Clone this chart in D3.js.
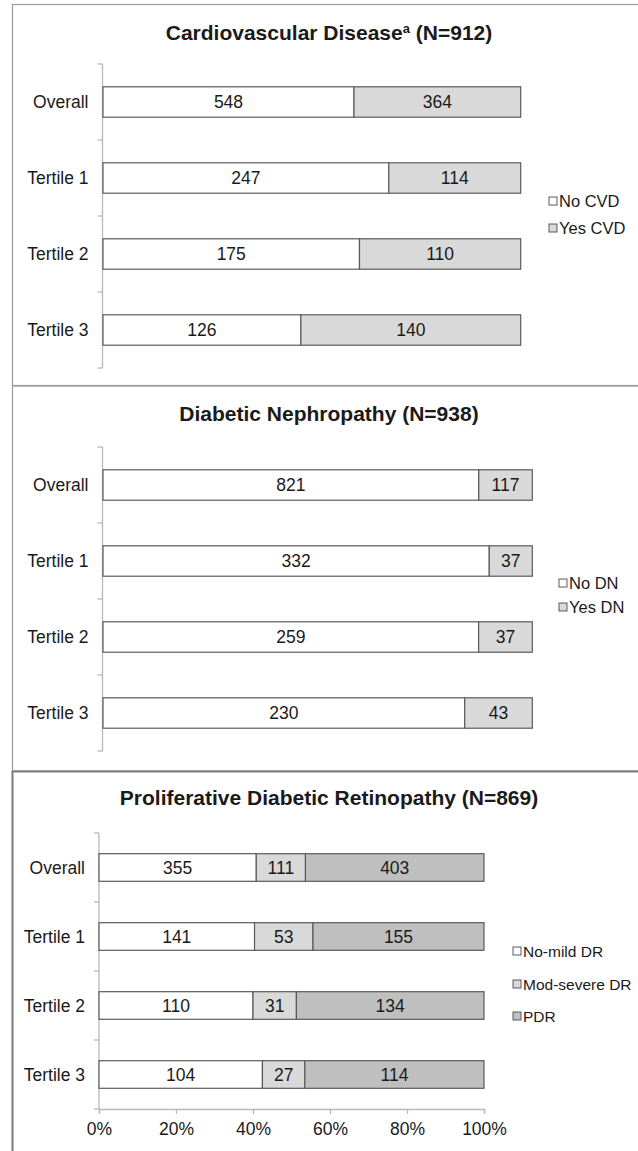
<!DOCTYPE html>
<html>
<head>
<meta charset="utf-8">
<script src="https://cdn.jsdelivr.net/npm/d3@7"></script>
<style>
  html, body { margin: 0; padding: 0; background: #fff; }
  svg { display: block; }
  text { font-family: "Liberation Sans", Arial, sans-serif; fill: #1a1a1a; }
</style>
</head>
<body>
<svg id="chart" width="638" height="1151"></svg>
<script>
// ---------- data ----------
const categories = ["Overall", "Tertile 1", "Tertile 2", "Tertile 3"];

const cvdSeries = ["No CVD", "Yes CVD"];
const cvdNo  = [548, 247, 175, 126];
const cvdYes = [364, 114, 110, 140];

const dnSeries = ["No DN", "Yes DN"];
const dnNo  = [821, 332, 259, 230];
const dnYes = [117, 37, 37, 43];

const drSeries = ["No-mild DR", "Mod-severe DR", "PDR"];
const drNoMild    = [355, 141, 110, 104];
const drModSevere = [111, 53, 31, 27];
const drPDR       = [403, 155, 134, 114];

const xTickValues = [0, 0.2, 0.4, 0.6, 0.8, 1];

const titles = [
  {main: "Cardiovascular Disease", sup: "a", tail: " (N=912)"},
  {main: "Diabetic Nephropathy (N=938)", sup: "", tail: ""},
  {main: "Proliferative Diabetic Retinopathy (N=869)", sup: "", tail: ""}
];

// ---------- styles ----------
const fills2 = ["#ffffff", "#d9d9d9"];
const fills3 = ["#ffffff", "#d9d9d9", "#bfbfbf"];
const barStroke = "#5a5a5a";
const axisColor = "#b8b8b8";

const svg = d3.select("#chart");
svg.append("rect").attr("width", 638).attr("height", 1151).attr("fill", "#fff");

// ---------- panel layouts ----------
const panels = [
  {
    top: 4.5, bottom: 385.5, titleY: 40, title: titles[0],
    series: cvdSeries, values: [cvdNo, cvdYes], fills: fills2,
    x0: 103, x1: 520.7, y0: 64, y1: 368, axisX: 102.5,
    legendX: 553, legendY: [201, 228], legendFont: 16.5, showX: false
  },
  {
    top: 386, bottom: 771, titleY: 421, title: titles[1],
    series: dnSeries, values: [dnNo, dnYes], fills: fills2,
    x0: 103, x1: 532.3, y0: 447, y1: 751, axisX: 102.5,
    legendX: 563, legendY: [583, 607], legendFont: 16.5, showX: false
  },
  {
    top: 771.5, bottom: 1160, titleY: 805, title: titles[2],
    series: drSeries, values: [drNoMild, drModSevere, drPDR], fills: fills3,
    x0: 99, x1: 484, y0: 833, y1: 1109, axisX: 99,
    legendX: 517, legendY: [951, 984, 1016], legendFont: 15.5, showX: true
  }
];

panels.forEach((p, pi) => {
  const g = svg.append("g");

  // panel frame
  g.append("rect")
    .attr("x", 12.5).attr("y", p.top)
    .attr("width", 700).attr("height", p.bottom - p.top)
    .attr("fill", "none")
    .attr("stroke", pi === 2 ? "#7a7a7a" : "#9a9a9a")
    .attr("stroke-width", pi === 2 ? 2 : 1.2);

  // title
  const t = g.append("text")
    .attr("x", 329).attr("y", p.titleY)
    .attr("text-anchor", "middle")
    .style("font-size", "21px").style("font-weight", "bold");
  t.append("tspan").text(p.title.main);
  if (p.title.sup) {
    t.append("tspan").text(p.title.sup)
      .attr("dy", -7).style("font-size", "13px");
    t.append("tspan").text(p.title.tail).attr("dy", 7);
  }

  // scales
  const y = d3.scaleBand().domain(categories)
    .range([p.y0, p.y1]).paddingInner(0.6).paddingOuter(0.3);
  const x = d3.scaleLinear().domain([0, 1]).range([p.x0, p.x1]);

  // stack as proportions
  const rows = categories.map((c, i) => {
    const o = {cat: c};
    const tot = d3.sum(p.values, v => v[i]);
    p.series.forEach((s, k) => { o[s] = p.values[k][i] / tot; o["n_" + s] = p.values[k][i]; });
    return o;
  });
  const stacked = d3.stack().keys(p.series)(rows);

  // y axis line + ticks at band boundaries
  g.append("line")
    .attr("x1", p.axisX).attr("x2", p.axisX)
    .attr("y1", p.y0).attr("y2", p.y1)
    .attr("stroke", axisColor).attr("stroke-width", 1.3);
  const bounds = d3.range(categories.length + 1).map(i => p.y0 + i * y.step());
  g.selectAll(".ytick").data(bounds).join("line")
    .attr("x1", p.axisX - 5).attr("x2", p.axisX)
    .attr("y1", d => d).attr("y2", d => d)
    .attr("stroke", axisColor).attr("stroke-width", 1.3);

  // category labels
  g.selectAll(".cat").data(categories).join("text")
    .attr("x", p.axisX - 14)
    .attr("y", d => y(d) + y.bandwidth() / 2)
    .attr("dy", "0.35em")
    .attr("text-anchor", "end")
    .style("font-size", "17.5px")
    .text(d => d);

  // bars
  stacked.forEach((layer, k) => {
    const lg = g.append("g");
    lg.selectAll("rect").data(layer).join("rect")
      .attr("x", d => x(d[0]))
      .attr("y", d => y(d.data.cat))
      .attr("width", d => x(d[1]) - x(d[0]))
      .attr("height", y.bandwidth())
      .attr("fill", p.fills[k])
      .attr("stroke", barStroke).attr("stroke-width", 1.2);
    lg.selectAll("text").data(layer).join("text")
      .attr("x", d => (x(d[0]) + x(d[1])) / 2)
      .attr("y", d => y(d.data.cat) + y.bandwidth() / 2)
      .attr("dy", "0.36em")
      .attr("text-anchor", "middle")
      .style("font-size", "17.5px")
      .text(d => d.data["n_" + layer.key]);
  });

  // x axis
  if (p.showX) {
    const ax = g.append("g").attr("transform", `translate(0,${p.y1})`)
      .call(d3.axisBottom(x).tickValues(xTickValues)
        .tickFormat(d3.format(".0%")).tickSize(5).tickPadding(9));
    ax.select(".domain").attr("stroke", axisColor).attr("stroke-width", 1.3);
    ax.selectAll(".tick line").attr("stroke", axisColor).attr("stroke-width", 1.3);
    ax.selectAll(".tick text")
      .style("font-size", "17.5px")
      .style("font-family", '"Liberation Sans", Arial, sans-serif')
      .attr("fill", "#1a1a1a");
  }

  // legend
  const leg = g.append("g");
  p.series.forEach((s, k) => {
    const ly = p.legendY[k];
    leg.append("rect")
      .attr("x", p.legendX - 4).attr("y", ly - 4)
      .attr("width", 8).attr("height", 8)
      .attr("fill", p.fills[k])
      .attr("stroke", barStroke).attr("stroke-width", 1);
    leg.append("text")
      .attr("x", p.legendX + 6).attr("y", ly)
      .attr("dy", "0.36em")
      .style("font-size", p.legendFont + "px")
      .text(s);
  });
});
</script>
</body>
</html>
